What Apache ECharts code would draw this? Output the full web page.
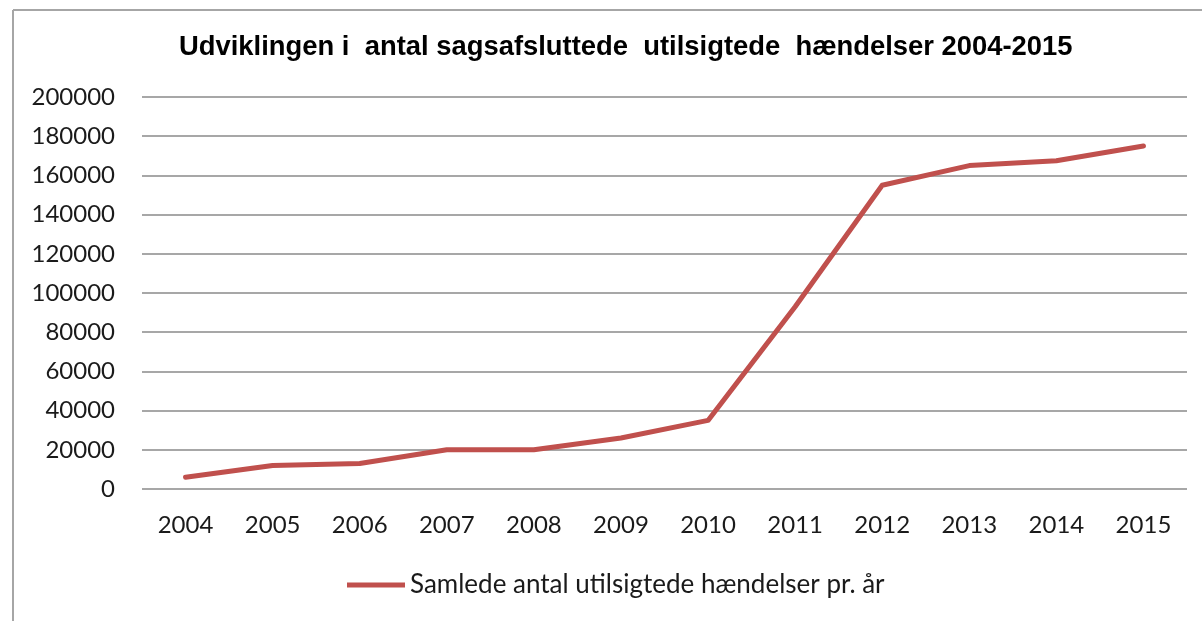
<!DOCTYPE html>
<html>
<head>
<meta charset="utf-8">
<script src="https://cdn.jsdelivr.net/npm/echarts@6/dist/echarts.min.js"></script>
<style>
html,body{margin:0;padding:0;background:#fff;}
#c{width:1202px;height:621px;}
</style>
</head>
<body>
<div id="c"></div>
<script>
const titleText = 'Udviklingen i  antal sagsafsluttede  utilsigtede  hændelser 2004-2015';
const seriesName = 'Samlede antal utilsigtede hændelser pr. år';
const years = ['2004','2005','2006','2007','2008','2009','2010','2011','2012','2013','2014','2015'];
const values = [6000, 12000, 13000, 20000, 20000, 26000, 35000, 93000, 155000, 165000, 167500, 175000];

const chart = echarts.init(document.getElementById('c'));
chart.setOption({
  backgroundColor: '#ffffff',
  animation: false,
  title: {
    text: titleText,
    left: 179,
    top: 34,
    padding: 0,
    textStyle: { fontFamily: 'Liberation Sans', fontWeight: 'bold', fontSize: 27.4, color: '#000' }
  },
  graphic: [
    { type: 'line', shape: { x1: 13, y1: 10, x2: 1202, y2: 10 }, style: { stroke: '#a6a6a6', lineWidth: 2 } },
    { type: 'line', shape: { x1: 13, y1: 10, x2: 13, y2: 621 }, style: { stroke: '#a6a6a6', lineWidth: 2 } }
  ],
  grid: { left: 142, right: 15, top: 97, bottom: 132, containLabel: false },
  legend: {
    data: [{ name: seriesName, icon: 'rect' }],
    top: 572,
    left: 347,
    padding: 0,
    itemWidth: 58,
    itemHeight: 5,
    textStyle: { fontFamily: 'Lato', fontSize: 26, color: '#1a1a1a' }
  },
  xAxis: {
    type: 'category',
    data: years,
    boundaryGap: true,
    axisLine: { show: false },
    axisTick: { show: false },
    axisLabel: { fontFamily: 'Lato', fontSize: 24, color: '#1a1a1a', margin: 24 }
  },
  yAxis: {
    type: 'value',
    min: 0, max: 200000, interval: 20000,
    axisLine: { show: false },
    axisTick: { show: false },
    axisLabel: { fontFamily: 'Lato', fontSize: 24, color: '#1a1a1a', margin: 27, formatter: v => String(v) },
    splitLine: { lineStyle: { color: '#8a8a8a', width: 1.5 } }
  },
  series: [{
    name: seriesName,
    type: 'line',
    data: values,
    symbol: 'none',
    color: '#C0504D',
    lineStyle: { color: '#C0504D', width: 5, cap: 'round', join: 'round' }
  }]
});
</script>
</body>
</html>
